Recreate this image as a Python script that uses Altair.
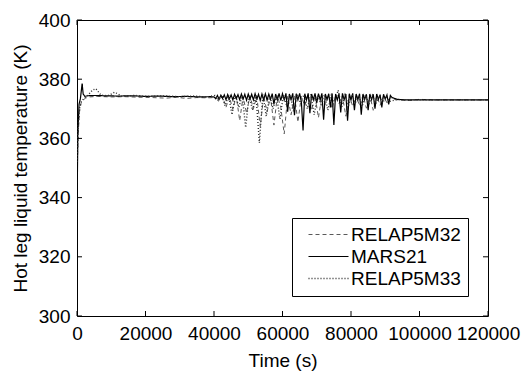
import altair as alt
import pandas as pd

FONT = "Liberation Sans"
W, H = 411, 296

# ---------------- data ----------------
series_order = ["RELAP5M32", "MARS21", "RELAP5M33"]
x_ticks = [0, 20000, 40000, 60000, 80000, 100000, 120000]
y_ticks = [300, 320, 340, 360, 380, 400]

mars_t = [0, 250, 600, 1000, 1500, 1800, 2300, 3000, 5000, 8000, 12000, 16000,
          20000, 24000, 28000, 32000, 36000, 39000,
          40000, 40500, 41000, 41500, 42000, 42500, 43000, 43500, 44000, 44500,
          45000, 45500, 46000, 46500, 47000, 47500, 48000, 48500, 49000, 49500,
          50000, 50500, 51000, 51500, 52000, 52500, 53000, 53500, 54000, 54500,
          55000, 55500, 56000, 56500, 57000, 57500, 58000, 58500, 59000, 59500,
          60000, 60500, 61000, 61500, 62000, 62500, 63000, 63500, 64000, 64500,
          65000, 65500, 66000, 66500, 67000, 67500, 68000, 68500, 69000, 69500,
          70000, 70500, 71000, 71500, 72000, 72500, 73000, 73500, 74000, 74500,
          75000, 75500, 76000, 76500, 77000, 77500, 78000, 78500, 79000, 79500,
          80000, 80500, 81000, 81500, 82000, 82500, 83000, 83500, 84000, 84500,
          85000, 85500, 86000, 86500, 87000, 87500, 88000, 88500, 89000, 89500,
          90000, 90500, 91000, 91500, 92000,
          93500, 96000, 100000, 110000, 120000]
mars_v = [335.0, 362.0, 371.5, 373.5, 378.5, 375.0, 374.2, 374.4, 374.5, 374.4, 374.3, 374.4,
          374.2, 374.3, 374.1, 374.2, 374.0, 374.1,
          374.0, 373.4, 374.5, 373.2, 374.6, 373.5, 374.7, 373.1, 374.8, 373.3,
          374.7, 373.0, 374.9, 373.4, 374.8, 373.1, 375.0, 373.3, 374.9, 372.9,
          375.0, 373.2, 374.9, 373.0, 375.1, 373.3, 374.9, 372.8, 375.0, 373.1,
          375.1, 372.9, 375.0, 373.2, 375.1, 371.5, 375.0, 373.0, 375.2, 372.8,
          375.1, 373.0, 375.2, 369.0, 375.0, 373.1, 375.2, 367.8, 375.1, 373.0,
          375.2, 372.5, 362.7, 375.1, 373.0, 375.2, 368.5, 375.0, 373.1, 375.2,
          372.0, 375.1, 373.0, 375.2, 366.3, 375.0, 373.2, 375.1, 370.5, 375.2,
          364.5, 375.0, 373.0, 375.1, 368.8, 375.2, 373.1, 375.0, 366.0, 375.1,
          373.0, 375.2, 369.5, 375.0, 373.1, 375.1, 368.0, 375.0, 373.2, 374.9,
          369.5, 375.0, 373.1, 374.9, 370.0, 375.0, 373.2, 374.8, 370.5, 374.9,
          373.3, 374.7, 371.5, 374.5, 373.8,
          373.2, 373.0, 373.0, 373.0, 373.0]

m32_t = [0, 300, 700, 1200, 1800, 2500, 3500, 6000, 10000, 14000, 18000, 22000,
         26000, 29000, 32000, 35000, 38000,
         40500, 41500, 42500, 43500, 44500, 45500, 46500, 47500, 48500, 49500,
         50500, 51500, 52500, 53500, 54500, 55500, 56500, 57500, 58500, 59500,
         60500, 61500, 62500, 63500, 64500, 65500, 66500, 67500, 68500, 69500,
         70500, 71500, 72500, 73500, 74500, 75500, 76500, 77500, 78500, 79500,
         80500, 81500, 82500, 83500, 84500, 85500, 86500, 87500, 88500, 89500,
         90500, 91500, 93000, 97000, 100000, 104000, 120000]
m32_v = [345.0, 360.0, 369.0, 372.0, 373.0, 373.6, 374.0, 374.2, 374.0, 374.1, 373.9, 373.8,
         373.6, 373.9, 373.5, 373.8, 373.7,
         373.8, 373.0, 374.2, 370.5, 374.0, 369.8, 374.3, 366.0, 374.1, 368.5,
         374.4, 370.0, 374.2, 364.0, 374.3, 369.0, 374.0, 364.5, 374.4, 370.5,
         361.5, 374.2, 368.0, 374.5, 365.5, 374.2, 371.0, 374.6, 369.5, 374.3,
         367.0, 374.5, 371.5, 374.4, 370.0, 374.6, 371.8, 374.3, 367.5, 374.5,
         370.8, 374.4, 371.0, 374.6, 370.2, 374.5, 369.5, 374.4, 371.2, 374.3,
         372.0, 373.8, 373.1, 372.8, 373.2, 373.0, 373.0]

m33_t = [0, 350, 800, 1300, 2000, 3000, 4500, 5500, 7000, 9000, 11000, 13000,
         17000, 21000, 25000, 30000, 34000, 38000,
         40250, 41250, 42250, 43250, 44250, 45250, 46250, 47250, 48250, 49250,
         50250, 51250, 52250, 53250, 54250, 55250, 56250, 57250, 58250, 59250,
         60250, 61250, 62250, 63250, 64250, 65250, 66250, 67250, 68250, 69250,
         70250, 71250, 72250, 73250, 74250, 75250, 76250, 77250, 78250, 79250,
         80250, 81250, 82250, 83250, 84250, 85250, 86250, 87250, 88250, 89250,
         90250, 91250, 93000, 98000, 120000]
m33_v = [352.0, 364.0, 370.5, 372.5, 373.5, 374.3, 376.3, 376.8, 374.6, 374.4, 375.6, 374.3,
         374.5, 374.2, 374.4, 374.1, 374.3, 374.0,
         374.5, 372.8, 374.7, 371.0, 374.6, 368.0, 374.8, 370.5, 374.5, 363.7,
         374.7, 369.5, 374.6, 358.5, 374.8, 367.5, 374.5, 370.0, 374.7, 366.5,
         374.6, 371.0, 374.8, 369.0, 374.5, 372.0, 374.7, 370.0, 374.9, 368.0,
         374.6, 371.5, 374.8, 369.5, 374.6, 372.2, 376.3, 370.5, 374.7, 371.0,
         374.8, 372.0, 374.6, 370.8, 374.7, 371.5, 374.5, 371.8, 374.4, 372.0,
         374.2, 372.5, 373.0, 373.0, 373.0]

line_colors = ["#5a5a5a", "#000000", "#2a2a2a"]
line_dashes = [[4, 3], [1, 0], [1, 2]]
line_widths = [1.0, 1.4, 1.0]

# ---------------- build table ----------------
rows = []
for name, ts, vs in [("RELAP5M32", m32_t, m32_v), ("MARS21", mars_t, mars_v),
                     ("RELAP5M33", m33_t, m33_v)]:
    for t, v in zip(ts, vs):
        rows.append({"series": name, "time": t, "temp": v})
df = pd.DataFrame(rows)

xscale = alt.Scale(domain=[0, 120000], nice=False, zero=False)
yscale = alt.Scale(domain=[300, 400], nice=False, zero=False)

x_axis = alt.Axis(values=x_ticks, title="Time (s)", format="d",
                  labelPadding=8, titleX=205.5, titleY=44,
                  labelOverlap=False, labelBound=False, labelFlush=False,
                  titleBaseline="middle", titleAlign="center")
y_axis = alt.Axis(values=y_ticks, title="Hot leg liquid temperature (K)",
                  labelPadding=7, titleX=-57, titleY=148, titleAngle=270,
                  labelOverlap=False, labelBound=False, labelFlush=False,
                  titleBaseline="middle", titleAlign="center")

lines = alt.Chart(df).mark_line(clip=True).encode(
    x=alt.X("time:Q", scale=xscale, axis=x_axis),
    y=alt.Y("temp:Q", scale=yscale, axis=y_axis),
    color=alt.Color("series:N", sort=series_order,
                    scale=alt.Scale(domain=series_order, range=line_colors),
                    legend=alt.Legend(title=None)),
    strokeDash=alt.StrokeDash("series:N", sort=series_order,
                              scale=alt.Scale(domain=series_order, range=line_dashes),
                              legend=alt.Legend(title=None)),
    strokeWidth=alt.StrokeWidth("series:N",
                                scale=alt.Scale(domain=series_order, range=line_widths),
                                legend=None),
)

xt = pd.DataFrame({"time": x_ticks})
yt = pd.DataFrame({"temp": y_ticks})
bottom_ticks = alt.Chart(xt).mark_rule(color="black", strokeWidth=1).encode(
    x=alt.X("time:Q", scale=xscale, axis=x_axis), y=alt.value(H), y2=alt.value(H - 5))
top_ticks = alt.Chart(xt).mark_rule(color="black", strokeWidth=1).encode(
    x=alt.X("time:Q", scale=xscale, axis=x_axis), y=alt.value(0), y2=alt.value(5))
left_ticks = alt.Chart(yt).mark_rule(color="black", strokeWidth=1).encode(
    y=alt.Y("temp:Q", scale=yscale, axis=y_axis), x=alt.value(0), x2=alt.value(5))
right_ticks = alt.Chart(yt).mark_rule(color="black", strokeWidth=1).encode(
    y=alt.Y("temp:Q", scale=yscale, axis=y_axis), x=alt.value(W - 5), x2=alt.value(W))

chart = alt.layer(lines, bottom_ticks, top_ticks, left_ticks, right_ticks).properties(
    width=W, height=H,
    autosize=alt.AutoSizeParams(type="none"),
    padding={"left": 77, "top": 20, "right": 33, "bottom": 63},
    background="white",
).configure_view(
    stroke="black", strokeWidth=1
).configure_axis(
    labelFont=FONT, labelFontSize=19, labelColor="black",
    titleFont=FONT, titleFontSize=19, titleFontWeight="normal", titleColor="black",
    grid=False, domain=False, ticks=False,
).configure_legend(
    orient="none", legendX=215, legendY=198,
    padding=7, strokeColor="black", fillColor="white", cornerRadius=0,
    labelFont=FONT, labelFontSize=19, labelColor="black",
    rowPadding=2, symbolType="M-4,0H4", symbolSize=100,
    symbolOffset=20, labelOffset=13, symbolStrokeWidth=1.2,
)

chart.save("out.html", embed_options={"renderer": "svg", "actions": False})
